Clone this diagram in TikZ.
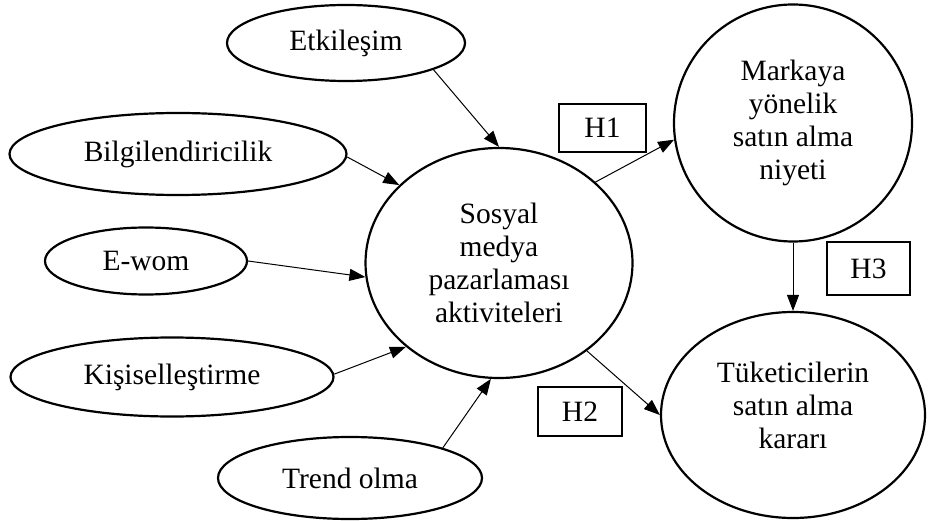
\documentclass[tikz,border=0pt]{standalone}
\usepackage{fontspec}
\setmainfont{Liberation Serif}
\usetikzlibrary{shapes.geometric,arrows.meta}
\begin{document}
\begin{tikzpicture}[x=1pt,y=-1pt,
  txt/.style={font=\fontsize{29.5}{33}\selectfont},
  oval/.style={ellipse, draw, line width=2.2pt, inner sep=0pt, align=center, txt},
  hbox/.style={rectangle, draw, line width=1.3pt, inner sep=0pt, txt},
  link/.style={line width=1pt, -{Triangle[length=16pt,width=12pt]}}]
\useasboundingbox (0,0) rectangle (928,521);

% antecedent constructs
\node[oval, minimum width=238pt, minimum height=76pt] (etk) at (346,43) {Etkileşim};
\node[oval, minimum width=337pt, minimum height=82pt] (bil) at (178,154) {Bilgilendiricilik};
\node[oval, minimum width=202pt, minimum height=67pt] (ewom) at (146,261) {E-wom};
\node[oval, minimum width=323pt, minimum height=79pt] (kis) at (172,377) {Kişiselleştirme};
\node[oval, minimum width=264pt, minimum height=82pt] (trend) at (350,478) {Trend olma};

% central construct and outcomes
\node[oval, minimum width=267pt, minimum height=230pt] (sma) at (499,263)
  {Sosyal\\medya\\pazarlaması\\aktiviteleri};
\node[oval, minimum width=238pt, minimum height=237pt] (mar) at (793,123)
  {Markaya\\yönelik\\satın alma\\niyeti};
\node[oval, minimum width=264pt, minimum height=206pt,
  label={[align=center, txt, yshift=10pt]center:Tüketicilerin\\satın alma\\kararı}] (tuk) at (793,415) {};

% hypothesis labels
\node[hbox, minimum width=87pt, minimum height=48pt] (h1) at (602.5,128) {H1};
\node[hbox, minimum width=84pt, minimum height=49pt] (h2) at (580,411.5) {H2};
\node[hbox, minimum width=83pt, minimum height=53pt] (h3) at (868.5,268.5) {H3};

% paths
\draw[link] (etk.-17) -- (sma.90);
\draw[link] (bil.-1) -- (sma.142);
\draw[link] (ewom.east) -- (sma.186);
\draw[link] (kis.1) -- (sma.222);
\draw[link] (trend.18) -- (sma.266);
\draw[link] (sma.40) -- (mar.188);
\draw[link] (sma.-45) -- (tuk.west);
\draw[link] (mar.south) -- (tuk.north);
\end{tikzpicture}
\end{document}
